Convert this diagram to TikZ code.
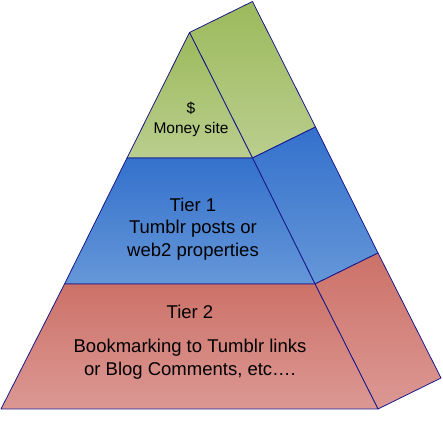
\documentclass[tikz,border=0pt]{standalone}
\usepackage{fontspec}
\setmainfont{Liberation Sans}
\usetikzlibrary{calc}

\definecolor{edgeblue}{RGB}{25,25,140}
\definecolor{greentop}{RGB}{156,186,92}
\definecolor{greenbot}{RGB}{186,206,142}
\definecolor{bluetop}{RGB}{52,113,204}
\definecolor{bluebot}{RGB}{101,151,216}
\definecolor{redtop}{RGB}{204,114,104}
\definecolor{redbot}{RGB}{220,152,148}

\begin{document}
\begin{tikzpicture}[x=1pt, y=1pt,
    face/.style={draw=edgeblue, line width=0.8pt, line join=round},
    tiertext/.style={align=center, font=\fontsize{18.5}{22.5}\selectfont},
    toptext/.style={align=center, font=\fontsize{15.5}{20}\selectfont}]
    \useasboundingbox (0, 0) rectangle (442, 444);

    % front corners
    \coordinate (T) at (189.5, 411.5);
    \coordinate (L1) at (127, 286);
    \coordinate (R1) at (252.5, 286);
    \coordinate (L2) at (64.5, 160);
    \coordinate (R2) at (315, 160);
    \coordinate (BL) at (1, 35);
    \coordinate (BR) at (378, 35);
    % depth offset
    \coordinate (D) at (63, 31);
    \coordinate (Tb) at ($(T)+(D)$);
    \coordinate (R1b) at ($(R1)+(D)$);
    \coordinate (R2b) at ($(R2)+(D)$);
    \coordinate (BRb) at ($(BR)+(D)$);

    % side faces
    \shadedraw[face, top color=greentop, bottom color=greenbot] (T) -- (Tb) -- (R1b) -- (R1) -- cycle;
    \shadedraw[face, top color=bluetop, bottom color=bluebot] (R1) -- (R1b) -- (R2b) -- (R2) -- cycle;
    \shadedraw[face, top color=redtop, bottom color=redbot] (R2) -- (R2b) -- (BRb) -- (BR) -- cycle;

    % front faces
    \shadedraw[face, top color=greentop, bottom color=greenbot] (T) -- (L1) -- (R1) -- cycle;
    \shadedraw[face, top color=bluetop, bottom color=bluebot] (L1) -- (L2) -- (R2) -- (R1) -- cycle;
    \shadedraw[face, top color=redtop, bottom color=redbot] (L2) -- (BL) -- (BR) -- (R2) -- cycle;

    \node[toptext] (money) at (191, 325) {\$\\Money site};
    \node[tiertext] (tierone) at (193, 215) {Tier 1\\Tumblr posts or\\web2 properties};
    \node[tiertext] (tiertwo) at (190, 102) {Tier 2\\[12pt]Bookmarking to Tumblr links\\or Blog Comments, etc….};
\end{tikzpicture}
\end{document}
